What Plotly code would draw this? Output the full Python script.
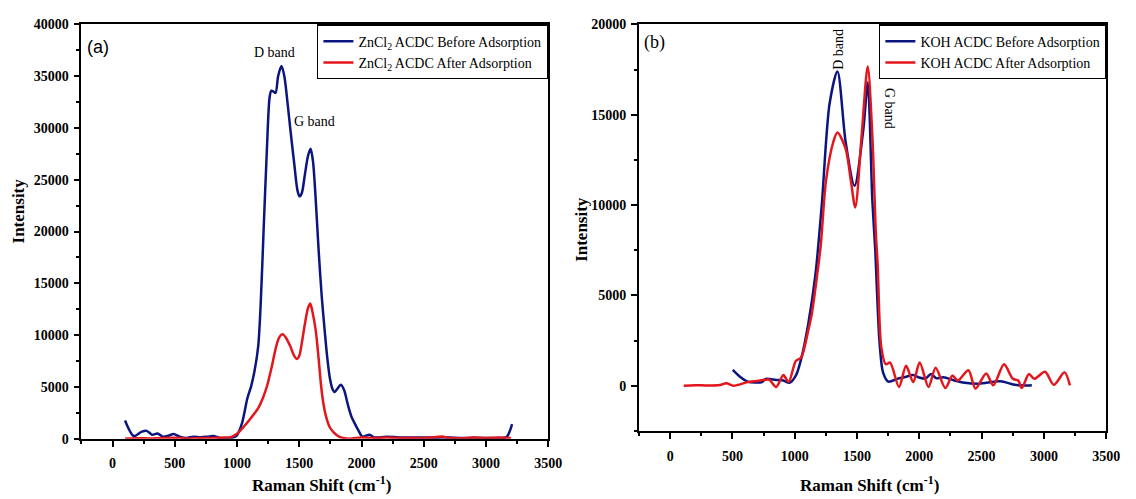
import plotly.graph_objects as go

# ---------------- (a) ZnCl2 activated carbon ----------------
zn_before_x = [100, 170, 231, 274, 318, 361, 404, 448, 491, 534, 592, 650, 707, 765, 808, 866, 938,
               996, 1040, 1083, 1112, 1140, 1170, 1190, 1213, 1240, 1262, 1276, 1295, 1310, 1330, 1357,
               1380, 1405, 1429, 1460, 1485, 1502, 1520, 1545, 1570, 1591, 1610, 1630, 1655, 1680, 1704,
               1725, 1747, 1770, 1785, 1805, 1834, 1860, 1891, 1920, 1949, 1975, 2007, 2065, 2100, 2200,
               2300, 2400, 2500, 2600, 2700, 2800, 2900, 3000, 3100, 3165, 3210]
zn_before_y = [1750, 250, 650, 750, 380, 500, 190, 280, 440, 220, 60, 190, 125, 190, 250, 60, 30,
               280, 1500, 3900, 5000, 6500, 8900, 13000, 20000, 28000, 33000, 33600, 33500, 33400, 35000, 36000,
               35000, 32500, 29800, 26500, 24000, 23400, 23700, 25500, 27300, 28000, 26800, 23500, 18300, 13800, 10460,
               7800, 5760, 4700, 4500, 4800, 5200, 4700, 3250, 2100, 1380, 800, 190, 380, 120, 180,
               120, 100, 120, 80, 120, 60, 80, 60, 50, 150, 1400]

zn_after_x = [100, 200, 300, 400, 500, 600, 700, 800, 900, 950, 996, 1050, 1112, 1170, 1210, 1242, 1280,
              1314, 1340, 1366, 1395, 1429, 1455, 1481, 1500, 1520, 1545, 1570, 1588, 1605, 1632, 1655,
              1675, 1695, 1718, 1745, 1776, 1805, 1834, 1900, 2000, 2100, 2200, 2300, 2400, 2500, 2600,
              2650, 2700, 2800, 2900, 3000, 3100, 3200]
zn_after_y = [0, 30, 20, 60, 80, 20, 50, 60, 100, 150, 440, 1100, 2000, 2940, 4000, 5130, 7000,
              8890, 9800, 10080, 9700, 8890, 8100, 7700, 8000, 9200, 11080, 12600, 13050, 12300, 10460, 7800,
              5130, 3300, 2000, 1100, 600, 300, 125, 0, 120, 50, 120, 60, 80, 50, 150,
              200, 80, 30, 100, 60, 100, 50]

# ---------------- (b) KOH activated carbon ----------------
koh_before_x = [503, 566, 623, 737, 766, 851, 909, 957, 1009, 1051, 1109, 1166, 1217, 1280, 1343, 1409,
                1480, 1551, 1586, 1623, 1646, 1680, 1709, 1751, 1823, 1880, 1951, 1994, 2051, 2094, 2137,
                2194, 2280, 2366, 2480, 2651, 2766, 2903]
koh_before_y = [880, 470, 230, 200, 380, 320, 290, 160, 560, 1460, 3440, 6130, 10000, 15625, 17400, 13480,
                11070, 14200, 16790, 10270, 7570, 2500, 740, 230, 380, 470, 590, 470, 400, 650, 410,
                470, 290, 160, 110, 250, 50, 20]

koh_after_x = [109, 200, 300, 400, 451, 509, 623, 723, 794, 851, 909, 951, 1009, 1051, 1109, 1137, 1180,
               1209, 1251, 1309, 1343, 1409, 1451, 1486, 1537, 1586, 1623, 1651, 1666, 1694, 1731, 1766,
               1837, 1894, 1951, 2003, 2074, 2131, 2209, 2266, 2309, 2394, 2451, 2537, 2594, 2680, 2751,
               2794, 2823, 2880, 2923, 3009, 3080, 3166, 3209]
koh_after_y = [0, 30, 10, 40, 140, 0, 200, 290, 340, -70, 590, 200, 1370, 1550, 3075, 3975, 6130,
               7770, 11340, 13480, 14020, 13120, 11340, 9870, 13840, 17680, 13840, 8480, 6670, 2180, 1190, 1280,
               -70, 1100, 200, 1280, -70, 1000, -130, 560, 290, 860, -160, 680, 20, 1190, 380,
               290, -130, 650, 380, 770, 50, 740, 20]

NAVY = "#0b1580"
RED = "#e3161c"
SERIF = "Liberation Serif"

fig = go.Figure()

fig.add_trace(go.Scatter(x=zn_before_x, y=zn_before_y, mode="lines", name="ZnCl<sub>2</sub> ACDC Before Adsorption",
                         line=dict(color=NAVY, width=2.5, shape="spline", smoothing=0.8),
                         xaxis="x", yaxis="y", legend="legend"))
fig.add_trace(go.Scatter(x=zn_after_x, y=zn_after_y, mode="lines", name="ZnCl<sub>2</sub> ACDC After Adsorption",
                         line=dict(color=RED, width=2.5, shape="spline", smoothing=0.8),
                         xaxis="x", yaxis="y", legend="legend"))
fig.add_trace(go.Scatter(x=koh_before_x, y=koh_before_y, mode="lines", name="KOH ACDC Before Adsorption",
                         line=dict(color=NAVY, width=2.5, shape="spline", smoothing=0.8),
                         xaxis="x2", yaxis="y2", legend="legend2"))
fig.add_trace(go.Scatter(x=koh_after_x, y=koh_after_y, mode="lines", name="KOH ACDC After Adsorption",
                         line=dict(color=RED, width=2.5, shape="spline", smoothing=0.8),
                         xaxis="x2", yaxis="y2", legend="legend2"))

tickfont = dict(family=SERIF, size=14, color="black", weight=700)


def axis_style(domain, rng, dtick, anchor, standoff):
    return dict(domain=domain, range=rng, dtick=dtick, tick0=0, anchor=anchor,
                tickformat="d", tickprefix="<b>", ticksuffix="</b>", ticklabelstandoff=standoff,
                showgrid=False, zeroline=False, showline=True, linecolor="black", linewidth=1.8,
                mirror=True, ticks="outside", ticklen=6, tickwidth=1.8, tickcolor="black",
                tickfont=tickfont,
                minor=dict(ticks="outside", ticklen=3.5, tickwidth=1.5, tickcolor="black",
                           dtick=dtick / 2, showgrid=False))


legend_style = dict(bgcolor="white", bordercolor="black", borderwidth=1.2,
                    font=dict(family=SERIF, size=14, color="black"),
                    xanchor="right", yanchor="top", xref="paper", yref="paper",
                    tracegroupgap=0, itemwidth=30)

fig.update_layout(
    width=1136, height=499,
    margin=dict(l=0, r=0, t=0, b=0),
    paper_bgcolor="white", plot_bgcolor="white",
    xaxis=axis_style([0.0726, 0.4886], [-250, 3500], 500, "y", 5),
    yaxis=axis_style([0.1082, 0.9639], [0, 40000], 5000, "x", 2),
    xaxis2=axis_style([0.5695, 0.9859], [-250, 3500], 500, "y2", 5),
    yaxis2=axis_style([0.1242, 0.9639], [-2500, 20000], 5000, "x2", 2),
    legend=dict(x=0.4886, y=0.9639, **legend_style),
    legend2=dict(x=0.9859, y=0.9639, **legend_style),
    showlegend=True,
)

title_font = dict(family=SERIF, size=17, color="black")
ann = [
    # axis titles
    dict(text="<b>Raman Shift (cm<sup>-1</sup>)</b>", x=326 / 1136, y=1 - 492 / 499, xref="paper", yref="paper",
         showarrow=False, font=title_font, xanchor="center", yanchor="middle"),
    dict(text="<b>Raman Shift (cm<sup>-1</sup>)</b>", x=880 / 1136, y=1 - 492 / 499, xref="paper", yref="paper",
         showarrow=False, font=title_font, xanchor="center", yanchor="middle"),
    dict(text="<b>Intensity</b>", x=19 / 1136, y=1 - 210 / 499, xref="paper", yref="paper", textangle=-90,
         showarrow=False, font=title_font, xanchor="center", yanchor="middle"),
    dict(text="<b>Intensity</b>", x=588 / 1136, y=1 - 229 / 499, xref="paper", yref="paper", textangle=-90,
         showarrow=False, font=title_font, xanchor="center", yanchor="middle"),
    # panel letters
    dict(text="(a)", x=99 / 1136, y=1 - 41 / 499, xref="paper", yref="paper", showarrow=False,
         font=dict(family="Liberation Sans", size=18, color="black"), xanchor="center", yanchor="middle"),
    dict(text="(b)", x=663 / 1136, y=1 - 37 / 499, xref="paper", yref="paper", showarrow=False,
         font=dict(family=SERIF, size=18, color="black"), xanchor="center", yanchor="middle"),
    # band labels
    dict(text="D band", x=1300, y=37300, xref="x", yref="y", showarrow=False,
         font=dict(family=SERIF, size=14, color="black")),
    dict(text="G band", x=1623, y=30600, xref="x", yref="y", showarrow=False,
         font=dict(family=SERIF, size=14, color="black")),
    dict(text="D band", x=1351, y=18625, xref="x2", yref="y2", showarrow=False, textangle=-90,
         font=dict(family=SERIF, size=14, color="black")),
    dict(text="G band", x=1760, y=15360, xref="x2", yref="y2", showarrow=False, textangle=90,
         font=dict(family=SERIF, size=14, color="black")),
]
fig.update_layout(annotations=ann)

fig.write_html("out.html")
